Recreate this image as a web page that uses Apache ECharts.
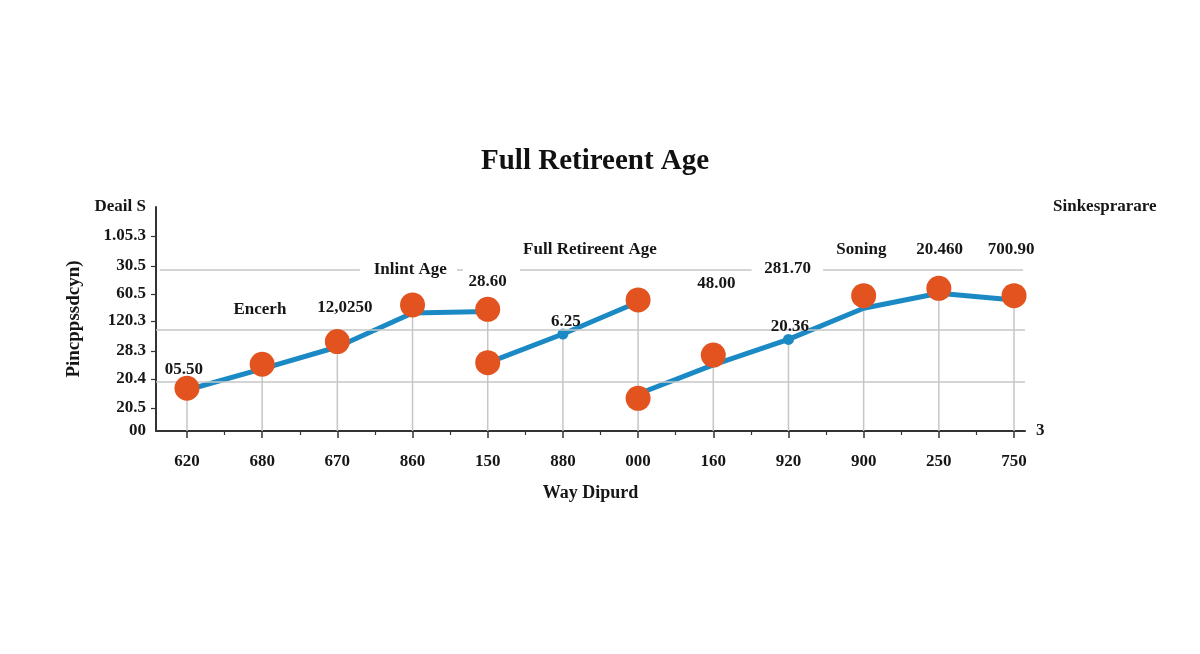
<!DOCTYPE html>
<html>
<head>
  <meta charset="utf-8">
  <title>Full Retireent Age</title>
  <script src="https://cdn.jsdelivr.net/npm/echarts@6/dist/echarts.min.js"></script>
  <style>
    html, body { margin: 0; padding: 0; background: #fff; }
    #chart { width: 1200px; height: 654px; }
  </style>
</head>
<body>
  <div id="chart"></div>
  <script>
    // categories on the x axis
    var categories = ['620', '680', '670', '860', '150', '880', '000', '160', '920', '900', '250', '750'];

    // y axis tick values and their (odd) labels
    var yTickValues = [100, 87.1, 73.7, 61.2, 49.1, 35.7, 23.2, 10.3, 0];
    var yTickLabels = ['Deail S', '1.05.3', '30.5', '60.5', '120.3', '28.3', '20.4', '20.5', '00'];

    // blue line, drawn in three broken pieces  [category index, value]
    var lineSeg1 = [[0, 18.3], [1, 27.7], [2, 37.5], [3, 52.7], [4, 53.3]];
    var lineSeg2 = [[4, 30.4], [5, 43.3], [6, 57.6]];
    var lineSeg3 = [[6, 16.5], [7, 29.5], [8, 40.9], [9, 54.8], [10, 61.5], [11, 58.5]];

    // big orange markers
    var orangePoints = [[0, 19.1], [1, 29.8], [2, 39.9], [3, 56.3], [4, 54.3], [4, 30.5],
                        [6, 58.5], [6, 14.6], [7, 33.9], [9, 60.4], [10, 63.7], [11, 60.4]];

    // small blue dots
    var bluePoints = [[5, 43.3], [8, 40.9]];

    // text annotations
    var noteTexts = ['05.50', 'Encerh', '12,0250', '28.60', 'Inlint Age', 'Full Retireent Age',
                     '6.25', '48.00', '281.70', '20.36', 'Soning', '20.460', '700.90'];

    var FONT = 'Liberation Serif';
    var TXT = '#161616';
    var GRID_GRAY = '#c6c6c6';

    // annotation anchors (category units, value units)
    var notePos = [[-0.04, 27.2], [0.97, 54.0], [2.1, 55.0], [4.0, 66.5], [2.97, 71.9], [5.36, 80.8],
                   [5.04, 48.8], [7.04, 65.9], [7.99, 72.6], [8.02, 46.6], [8.97, 80.8], [10.01, 80.8], [10.96, 80.8]];
    var notes = noteTexts.map(function (t, i) { return [notePos[i][0], notePos[i][1], t]; });

    // drop lines: from the highest mark at each category down to the axis
    var dropLines = categories.map(function (c, i) {
      var m = 0;
      orangePoints.concat(bluePoints).forEach(function (p) {
        if (p[0] === i && p[1] > m) m = p[1];
      });
      return [i, m];
    });

    var catIdx = categories.map(function (c, i) { return i; });
    var halfIdx = categories.slice(1).map(function (c, i) { return i + 0.5; });

    function hSeg(x1, x2, y) {
      return [{ coord: [x1, y] }, { coord: [x2, y] }];
    }

    var chart = echarts.init(document.getElementById('chart'));

    var option = {
      backgroundColor: '#fff',
      animation: false,
      title: [
        {
          text: 'Full Retireent Age',
          left: 476,
          top: 142,
          textStyle: { fontFamily: FONT, fontSize: 29, fontWeight: 'bold', color: '#111' }
        },
        {
          text: 'Sinkesprarare',
          left: 1048,
          top: 193,
          textStyle: { fontFamily: FONT, fontSize: 17, fontWeight: 'bold', color: TXT }
        }
      ],
      grid: { left: 156, top: 207, width: 869, height: 224, containLabel: false },
      xAxis: [
        {
          type: 'value',
          min: -0.412,
          max: 11.146,
          name: 'Way Dipurd',
          nameLocation: 'middle',
          nameGap: 53,
          nameTextStyle: { fontFamily: FONT, fontSize: 18, fontWeight: 'bold', color: TXT },
          axisLine: { show: true, onZero: false, lineStyle: { color: '#333', width: 2 } },
          axisTick: { show: true, customValues: catIdx, length: 7, lineStyle: { color: '#333', width: 1.5 } },
          axisLabel: {
            customValues: catIdx,
            margin: 22,
            fontFamily: FONT, fontSize: 17, fontWeight: 'bold', color: TXT,
            formatter: function (v) { return categories[Math.round(v)]; }
          },
          splitLine: { show: false }
        },
        {
          type: 'value',
          min: -0.412,
          max: 11.146,
          position: 'bottom',
          offset: 0,
          name: '3',
          nameLocation: 'end',
          nameGap: 11,
          nameTextStyle: { fontFamily: FONT, fontSize: 17, fontWeight: 'bold', color: TXT },
          axisLine: { show: false, onZero: false },
          axisTick: { show: true, customValues: halfIdx, length: 4, lineStyle: { color: '#333', width: 1.2 } },
          axisLabel: { show: false },
          splitLine: { show: false }
        }
      ],
      yAxis: {
        type: 'value',
        min: 0,
        max: 100,
        name: 'Pincppssdcyn)',
        nameLocation: 'middle',
        nameGap: 72,
        nameRotate: 90,
        nameTextStyle: { fontFamily: FONT, fontSize: 19, fontWeight: 'bold', color: TXT },
        axisLine: { show: true, onZero: false, lineStyle: { color: '#333', width: 2 } },
        axisTick: { show: true, customValues: yTickValues.slice(1, 8), length: 5, lineStyle: { color: '#333', width: 1.2 } },
        axisLabel: {
          customValues: yTickValues,
          margin: 10,
          fontFamily: FONT, fontSize: 17, fontWeight: 'bold', color: TXT,
          formatter: function (v) {
            var best = 0;
            yTickValues.forEach(function (t, i) {
              if (Math.abs(t - v) < Math.abs(yTickValues[best] - v)) best = i;
            });
            return yTickLabels[best];
          }
        },
        splitLine: { show: false }
      },
      series: [
        {
          name: 'drop',
          type: 'bar',
          data: dropLines,
          barWidth: 1.5,
          itemStyle: { color: GRID_GRAY },
          silent: true,
          z: 1,
          markLine: {
            silent: true,
            symbol: 'none',
            label: { show: false },
            lineStyle: { color: GRID_GRAY, width: 1.5, type: 'solid' },
            data: [
              hSeg(-0.412, 11.19, 100),
              hSeg(-0.36, 2.30, 71.9),
              hSeg(3.59, 3.67, 71.9),
              hSeg(4.43, 7.51, 71.9),
              hSeg(8.46, 11.12, 71.9),
              hSeg(-0.412, 11.146, 45.1),
              hSeg(-0.412, 11.146, 22.0)
            ]
          }
        },
        {
          name: 'seg1', type: 'line', data: lineSeg1, showSymbol: false,
          lineStyle: { color: '#1b8ac4', width: 5 }, z: 3
        },
        {
          name: 'seg2', type: 'line', data: lineSeg2, showSymbol: false,
          lineStyle: { color: '#1b8ac4', width: 5 }, z: 3
        },
        {
          name: 'seg3', type: 'line', data: lineSeg3, showSymbol: false,
          lineStyle: { color: '#1b8ac4', width: 5 }, z: 3
        },
        {
          name: 'dots', type: 'scatter', data: bluePoints, symbolSize: 11,
          itemStyle: { color: '#1b8ac4', opacity: 1 }, z: 4
        },
        {
          name: 'markers', type: 'scatter', data: orangePoints, symbolSize: 25,
          itemStyle: { color: '#e2531f', opacity: 1 }, z: 5
        },
        {
          name: 'notes', type: 'scatter', data: notes, symbolSize: 0, clip: false, silent: true,
          itemStyle: { opacity: 1 },
          label: {
            show: true, position: 'inside',
            fontFamily: FONT, fontSize: 17, fontWeight: 'bold', color: TXT,
            formatter: function (p) { return p.data[2]; }
          },
          z: 6
        }
      ]
    };

    chart.setOption(option);
  </script>
</body>
</html>
